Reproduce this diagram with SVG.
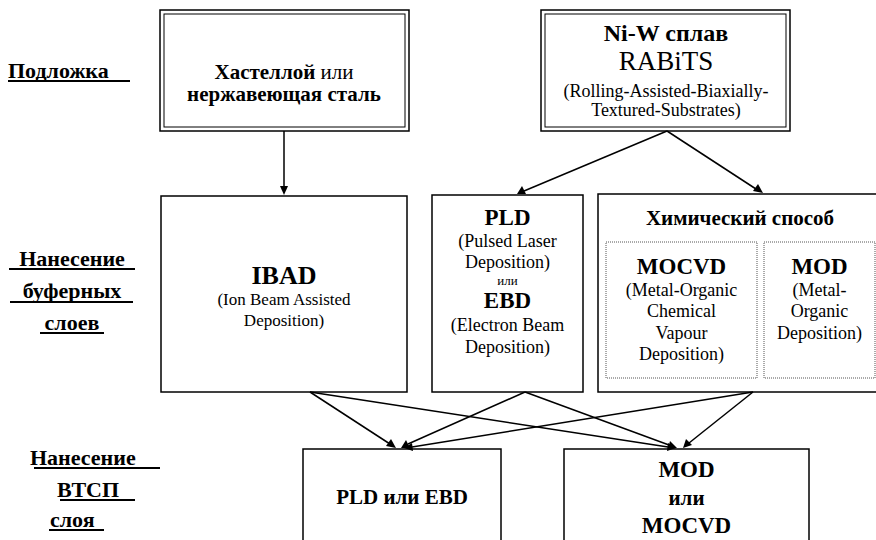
<svg xmlns="http://www.w3.org/2000/svg" width="876" height="540" viewBox="0 0 876 540">
<rect width="876" height="540" fill="#fff"/>
<g id="labels">
<text x="8" y="78" font-family="Liberation Serif" font-size="22" font-weight="bold">Подложка</text>
<line x1="8" y1="81" x2="130" y2="81" stroke="#000" stroke-width="2"/>
<text x="72" y="266" font-family="Liberation Serif" font-size="22" font-weight="bold" text-anchor="middle">Нанесение</text>
<line x1="9" y1="269" x2="135" y2="269" stroke="#000" stroke-width="2"/>
<text x="72" y="298" font-family="Liberation Serif" font-size="22" font-weight="bold" text-anchor="middle">буферных</text>
<line x1="10" y1="302" x2="133" y2="302" stroke="#000" stroke-width="2"/>
<text x="72" y="330" font-family="Liberation Serif" font-size="22" font-weight="bold" text-anchor="middle">слоев</text>
<line x1="40" y1="333" x2="104" y2="333" stroke="#000" stroke-width="2"/>
<text x="30" y="465" font-family="Liberation Serif" font-size="22" font-weight="bold">Нанесение</text>
<line x1="34" y1="468" x2="160" y2="468" stroke="#000" stroke-width="2"/>
<text x="57" y="497" font-family="Liberation Serif" font-size="22" font-weight="bold">ВТСП</text>
<line x1="60" y1="500" x2="135" y2="500" stroke="#000" stroke-width="2"/>
<text x="50" y="527" font-family="Liberation Serif" font-size="22" font-weight="bold">слоя</text>
<line x1="49" y1="530" x2="104" y2="530" stroke="#000" stroke-width="2"/>
</g>
<g id="hastelloy">
<rect x="160" y="10" width="249" height="121" fill="#fff" stroke="#000" stroke-width="1.5"/>
<rect x="164" y="14" width="241" height="113" fill="none" stroke="#000" stroke-width="1"/>
<text x="284" y="79" font-family="Liberation Serif" font-size="21" text-anchor="middle"><tspan font-weight="bold">Хастеллой</tspan> или</text>
<text x="284" y="101" font-family="Liberation Serif" font-size="21" font-weight="bold" text-anchor="middle">нержавеющая сталь</text>
</g>
<g id="niw">
<rect x="541" y="10" width="249" height="121" fill="#fff" stroke="#000" stroke-width="1.5"/>
<rect x="545" y="14" width="241" height="113" fill="none" stroke="#000" stroke-width="1"/>
<text x="666" y="41" font-family="Liberation Serif" font-size="24" font-weight="bold" text-anchor="middle">Ni-W сплав</text>
<text x="666" y="70" font-family="Liberation Serif" font-size="27" text-anchor="middle">RABiTS</text>
<text x="666" y="97" font-family="Liberation Serif" font-size="18" text-anchor="middle">(Rolling-Assisted-Biaxially-</text>
<text x="666" y="116" font-family="Liberation Serif" font-size="18" text-anchor="middle">Textured-Substrates)</text>
</g>
<g id="ibad">
<rect x="161" y="196" width="246" height="196" fill="#fff" stroke="#000" stroke-width="1.5"/>
<text x="284" y="284" font-family="Liberation Serif" font-size="26" font-weight="bold" text-anchor="middle">IBAD</text>
<text x="284" y="305" font-family="Liberation Serif" font-size="17" text-anchor="middle">(Ion Beam Assisted</text>
<text x="284" y="326" font-family="Liberation Serif" font-size="17" text-anchor="middle">Deposition)</text>
</g>
<g id="pld">
<rect x="432" y="195" width="151" height="197" fill="#fff" stroke="#000" stroke-width="1.5"/>
<text x="507.5" y="225" font-family="Liberation Serif" font-size="23" font-weight="bold" text-anchor="middle">PLD</text>
<text x="507.5" y="247" font-family="Liberation Serif" font-size="18" text-anchor="middle">(Pulsed Laser</text>
<text x="507.5" y="268" font-family="Liberation Serif" font-size="18" text-anchor="middle">Deposition)</text>
<text x="507.5" y="285" font-family="Liberation Serif" font-size="13" text-anchor="middle">или</text>
<text x="507.5" y="308" font-family="Liberation Serif" font-size="23" font-weight="bold" text-anchor="middle">EBD</text>
<text x="507.5" y="331" font-family="Liberation Serif" font-size="18" text-anchor="middle">(Electron Beam</text>
<text x="507.5" y="353" font-family="Liberation Serif" font-size="18" text-anchor="middle">Deposition)</text>
</g>
<g id="chem">
<rect x="598" y="194" width="290" height="198" fill="#fff" stroke="#000" stroke-width="1.5"/>
<text x="740" y="225" font-family="Liberation Serif" font-size="21" font-weight="bold" text-anchor="middle">Химический способ</text>
</g>
<g id="mocvd">
<rect x="606" y="242" width="151" height="136" fill="none" stroke="#555" stroke-width="1" stroke-dasharray="1 1"/>
<text x="681.5" y="274" font-family="Liberation Serif" font-size="23" font-weight="bold" text-anchor="middle">MOCVD</text>
<text x="681.5" y="296" font-family="Liberation Serif" font-size="18" text-anchor="middle">(Metal-Organic</text>
<text x="681.5" y="317" font-family="Liberation Serif" font-size="18" text-anchor="middle">Chemical</text>
<text x="681.5" y="339" font-family="Liberation Serif" font-size="18" text-anchor="middle">Vapour</text>
<text x="681.5" y="360" font-family="Liberation Serif" font-size="18" text-anchor="middle">Deposition)</text>
</g>
<g id="mod">
<rect x="764" y="242" width="111" height="136" fill="none" stroke="#555" stroke-width="1" stroke-dasharray="1 1"/>
<text x="819.5" y="274" font-family="Liberation Serif" font-size="23" font-weight="bold" text-anchor="middle">MOD</text>
<text x="819.5" y="296" font-family="Liberation Serif" font-size="18" text-anchor="middle">(Metal-</text>
<text x="819.5" y="317" font-family="Liberation Serif" font-size="18" text-anchor="middle">Organic</text>
<text x="819.5" y="339" font-family="Liberation Serif" font-size="18" text-anchor="middle">Deposition)</text>
</g>
<g id="pldebd">
<rect x="303" y="449" width="198" height="110" fill="#fff" stroke="#000" stroke-width="1.5"/>
<text x="402" y="504" font-family="Liberation Serif" font-size="21" font-weight="bold" text-anchor="middle">PLD или EBD</text>
</g>
<g id="modmocvd">
<rect x="564" y="449" width="245" height="110" fill="#fff" stroke="#000" stroke-width="1.5"/>
<text x="686.5" y="477" font-family="Liberation Serif" font-size="23" font-weight="bold" text-anchor="middle">MOD</text>
<text x="686.5" y="505" font-family="Liberation Serif" font-size="21" font-weight="bold" text-anchor="middle">или</text>
<text x="686.5" y="533" font-family="Liberation Serif" font-size="23" font-weight="bold" text-anchor="middle">MOCVD</text>
</g>
<g id="connectors" stroke="#000" stroke-width="1.5">
<line x1="284" y1="131" x2="284" y2="187"/>
<polygon points="284,195 280,186 288,186" fill="#000" stroke="none"/>
<line x1="667" y1="131" x2="524" y2="191"/>
<polygon points="517,194 522,186 526,194" fill="#000" stroke="none"/>
<line x1="667" y1="131" x2="756" y2="189"/>
<polygon points="763,193 753,191 758,184" fill="#000" stroke="none"/>
<line x1="310" y1="392" x2="390" y2="444"/>
<polygon points="396,448 386,446 391,439" fill="#000" stroke="none"/>
<line x1="310" y1="392" x2="668" y2="447"/>
<polygon points="676,448 667,451 668,443" fill="#000" stroke="none"/>
<line x1="525" y1="392" x2="408" y2="444"/>
<polygon points="401,448 406,440 410,448" fill="#000" stroke="none"/>
<line x1="525" y1="392" x2="669" y2="445"/>
<polygon points="677,448 668,449 670,441" fill="#000" stroke="none"/>
<line x1="753" y1="392" x2="412" y2="447"/>
<polygon points="404,448 412,443 413,451" fill="#000" stroke="none"/>
<line x1="753" y1="392" x2="689" y2="443"/>
<polygon points="683,448 686,439 692,445" fill="#000" stroke="none"/>
</g>
</svg>
